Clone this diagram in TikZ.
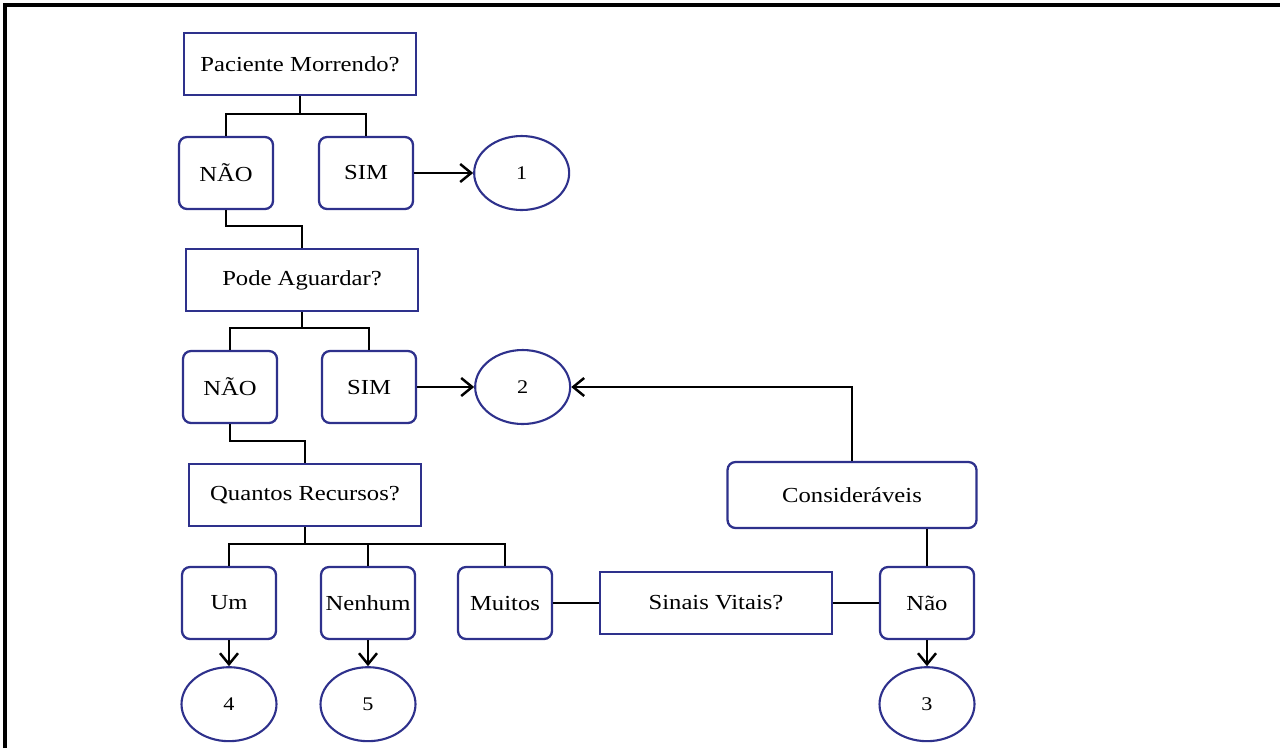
\documentclass[tikz,border=0pt]{standalone}
\usepackage{fontspec}
\setmainfont{Liberation Serif}[FakeStretch=1.15]
\usepackage{xcolor}
\usetikzlibrary{arrows.meta, positioning, shapes.geometric}
\definecolor{boxblue}{RGB}{46,49,140}
\tikzset{
	question/.style={draw=boxblue, line width=1.3pt, rectangle, minimum width=4.64cm, minimum height=1.24cm, inner sep=0pt, font=\fontsize{12.2}{14}\selectfont},
	answer/.style={question, rounded corners=0.16cm, minimum width=1.88cm, minimum height=1.44cm},
	endpoint/.style={draw=boxblue, line width=1.2pt, ellipse, minimum width=1.9cm, minimum height=1.48cm, inner sep=0pt, font=\fontsize{11}{12}\selectfont},
	link/.style={line width=1.4pt, black},
	flow/.style={link, -{Straight Barb[length=0.22cm, width=0.36cm]}}
}

\begin{document}
\begin{tikzpicture}[x=0.02cm, y=-0.02cm]
	\useasboundingbox (0,0) rectangle (1280,748);
	% Frame
	\draw[line width=2pt] (5,748) -- (5,5) -- (1280,5);
	
	% Paciente morrendo
	\node[question] (morrendo) at (300,64) {Paciente Morrendo?};
	\node[answer] (nao1) at (226,173) {NÃO};
	\node[answer] (sim1) at (366,173) {SIM};
	\node[endpoint, right=1.18cm of sim1] (fim1) {1};
	\draw[link] (morrendo.south) -- ++(0,18) coordinate (j1);
	\draw[link] (j1) -| (nao1.north);
	\draw[link] (j1) -| (sim1.north);
	\draw[flow] (sim1) -- (fim1);
	
	% Pode aguardar
	\node[question] (aguardar) at (302,280) {Pode Aguardar?};
	\draw[link] (nao1.south) -- ++(0,16) -| (aguardar.north);
	\node[answer] (nao2) at (230,387) {NÃO};
	\node[answer] (sim2) at (369,387) {SIM};
	\node[endpoint, right=1.14cm of sim2] (fim2) {2};
	\draw[link] (aguardar.south) -- ++(0,16) coordinate (j2);
	\draw[link] (j2) -| (nao2.north);
	\draw[link] (j2) -| (sim2.north);
	\draw[flow] (sim2) -- (fim2);
	
	% Quantos recursos
	\node[question] (recursos) at (305,495) {Quantos Recursos?};
	\draw[link] (nao2.south) -- ++(0,17) -| (recursos.north);
	\node[answer] (um) at (229,603) {Um};
	\node[answer] (nenhum) at (368,603) {Nenhum};
	\node[answer] (muitos) at (505,603) {Muitos};
	\draw[link] (recursos.south) -- ++(0,17) coordinate (j3);
	\draw[link] (j3) -| (um.north);
	\draw[link] (j3) -| (nenhum.north);
	\draw[link] (j3) -| (muitos.north);
	\node[endpoint, below=0.52cm of um] (fim4) {4};
	\node[endpoint, below=0.52cm of nenhum] (fim5) {5};
	\draw[flow] (um) -- (fim4);
	\draw[flow] (nenhum) -- (fim5);
	
	% Sinais vitais
	\node[question] (sinais) at (716,603) {Sinais Vitais?};
	\node[answer] (nao3) at (927,603) {Não};
	\node[question, rounded corners=0.16cm, minimum width=4.98cm, minimum height=1.32cm] (consid) at (852,495) {Consideráveis};
	\node[endpoint, below=0.52cm of nao3] (fim3) {3};
	\draw[link] (muitos) -- (sinais);
	\draw[link] (sinais) -- (nao3);
	\draw[link] (nao3.north) -- (nao3.north |- consid.south);
	\draw[flow] (consid.north) |- (fim2.east);
	\draw[flow] (nao3) -- (fim3);
\end{tikzpicture}
\end{document}
